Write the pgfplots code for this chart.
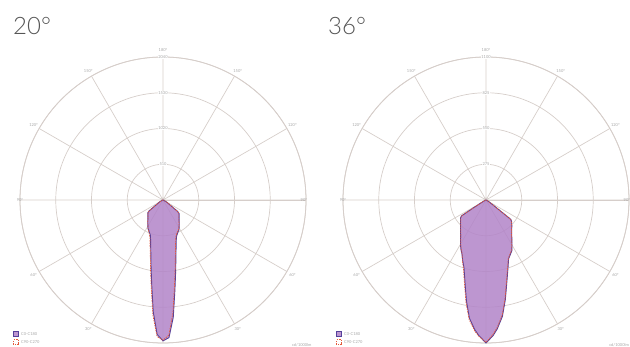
\documentclass[border=0pt]{standalone}
\usepackage{pgfplots}
\pgfplotsset{compat=1.18}
\usepgfplotslibrary{polar}
\usepackage{fontspec}
\setmainfont{Lato}
\newfontfamily\titlefont{Lato Light}
\definecolor{gridc}{RGB}{214,206,202}
\definecolor{fillc}{RGB}{178,132,200}
\definecolor{bluec}{RGB}{85,65,155}
\definecolor{redc}{RGB}{228,90,60}
\definecolor{titlec}{RGB}{85,85,85}
\newcommand{\tinyf}{\fontsize{4}{4.5}\selectfont}
\newcommand{\anglelabels}[1]{%
  \foreach \a/\l/\f in {0/90/0.985,30/120/1.045,60/150/1.045,90/180/1.045,120/150/1.045,150/120/1.045,180/90/1.0,210/60/1.045,240/30/1.045,300/30/1.045,330/60/1.045} {%
    \edef\temp{\noexpand\node[font=\noexpand\tinyf, text=gray!70, inner sep=0pt] at (axis cs:\a,#1*\f) {\l°};}%
    \temp
  }%
}
\newcommand{\ringlabels}[1]{%
  \foreach \r in {#1} {%
    \edef\temp{\noexpand\node[font=\noexpand\tinyf, text=gray!70, fill=white, inner sep=0.3pt] at (axis cs:90,\r) {\r};}%
    \temp
  }%
}
\pgfplotsset{
  mypolar/.style={
    scale only axis, width=286pt, height=286pt,
    anchor=center, clip=false,
    ymin=0,
    xtick={0,30,...,330},
    xticklabels={},
    yticklabels={},
    major tick length=0pt,
    grid=major,
    major grid style={gridc, line width=0.7pt},
    axis line style={gridc, line width=0.8pt},
    legend cell align=left,
    legend image code/.code={\draw[##1] (0pt,-2.2pt) rectangle (5pt,2.8pt);},
    legend style={at={(0,0)}, anchor=south west, xshift=-8pt, yshift=-5pt,
      draw=none, fill=none, font=\tinyf, text=gray!70, row sep=-0.5pt, inner sep=1pt},
  },
  blueline/.style={bluec, line width=0.9pt, fill=fillc, fill opacity=0.85, draw opacity=1},
  redline/.style={redc, line width=0.7pt, dashed, dash pattern=on 1.5pt off 1pt},
}
\begin{document}
\begin{tikzpicture}
\useasboundingbox (0,0) rectangle (630pt,347pt);
\node[anchor=base west, font=\titlefont\fontsize{24}{28}\selectfont, text=titlec, inner sep=0pt] at (13pt,312pt) {20°};
\node[anchor=base west, font=\titlefont\fontsize{24}{28}\selectfont, text=titlec, inner sep=0pt] at (328pt,312pt) {36°};

\begin{polaraxis}[mypolar, at={(163pt,147pt)}, ymax=2040, ytick={510,1020,1530,2040}]
\addplot[blueline] coordinates {
(-180,0) (-170,0) (-160,5) (-155,20) (-150,65) (-145,110) (-142,250) (-140,282)
(-135,305) (-130,335) (-125,380) (-120,432) (-117.5,462) (-115,480) (-112.5,505)
(-110,530) (-107.5,590) (-105,680) (-102.5,800) (-100,980) (-97.5,1230) (-95,1600)
(-92.5,1920) (-90,2010) (-87.5,1965) (-85,1680) (-82.5,1300) (-80,1040) (-77.5,850)
(-75,720) (-72.5,625) (-70,560) (-67.5,530) (-65,505) (-62.5,488) (-60,460)
(-55,405) (-50,357) (-45,325) (-40,300) (-38,265) (-35,115) (-30,68) (-25,20)
(-20,5) (-10,0) (0,0)} -- cycle;
\addplot[redline] coordinates {
(-180,0) (-170,0) (-160,5) (-155,20) (-150,60) (-145,105) (-142,245) (-140,280)
(-135,302) (-130,332) (-125,378) (-120,430) (-117.5,462) (-115,485) (-112.5,515)
(-110,550) (-107.5,615) (-105,710) (-102.5,835) (-100,1020) (-97.5,1280) (-95,1650)
(-92.5,1950) (-90,2000) (-87.5,1930) (-85,1620) (-82.5,1250) (-80,1000) (-77.5,815)
(-75,690) (-72.5,600) (-70,545) (-67.5,515) (-65,495) (-62.5,480) (-60,455)
(-55,400) (-50,352) (-45,320) (-40,296) (-38,260) (-35,110) (-30,65) (-25,20)
(-20,5) (-10,0) (0,0)} -- cycle;
\legend{C0-C180, C90-C270}
\anglelabels{2040}
\ringlabels{510,1020,1530,2040}
\node[font=\tinyf, text=gray!70, anchor=south east, inner sep=0pt] at (axis description cs:1.02,-0.012) {cd/1000lm};
\end{polaraxis}

\begin{polaraxis}[mypolar, at={(486pt,147pt)}, ymax=1100, ytick={275,550,825,1100}]
\addplot[blueline] coordinates {
(-180,0) (-170,0) (-160,5) (-155,15) (-150,45) (-148,120) (-147,224) (-145,239)
(-140,256) (-135,277) (-130,305) (-125,341) (-120,393) (-117,425) (-114,455)
(-111,500) (-108,548) (-104,665) (-101,790) (-98,918) (-95,1000) (-93,1045)
(-90,1100) (-87,1045) (-85,995) (-82,905) (-79,780) (-76,660) (-72,548) (-69,485)
(-66,460) (-63,438) (-60,400) (-55,346) (-50,308) (-45,281) (-40,257) (-38,242)
(-35,60) (-32,30) (-30,20) (-25,10) (-20,5) (-10,0) (0,0)} -- cycle;
\addplot[redline] coordinates {
(-180,0) (-170,0) (-160,5) (-155,15) (-150,45) (-148,118) (-147,222) (-145,236)
(-140,254) (-135,275) (-130,303) (-125,339) (-120,390) (-117,422) (-114,452)
(-111,505) (-108,560) (-104,680) (-101,805) (-98,930) (-95,1010) (-93,1050)
(-90,1095) (-87,1035) (-85,985) (-82,895) (-79,770) (-76,650) (-72,540) (-69,480)
(-66,455) (-63,434) (-60,397) (-55,343) (-50,305) (-45,279) (-40,255) (-38,240)
(-35,58) (-32,28) (-30,18) (-25,10) (-20,5) (-10,0) (0,0)} -- cycle;
\legend{C0-C180, C90-C270}
\anglelabels{1100}
\ringlabels{275,550,825,1100}
\node[font=\tinyf, text=gray!70, anchor=south east, inner sep=0pt] at (axis description cs:1.0,-0.012) {cd/1000lm};
\end{polaraxis}
\end{tikzpicture}
\end{document}
